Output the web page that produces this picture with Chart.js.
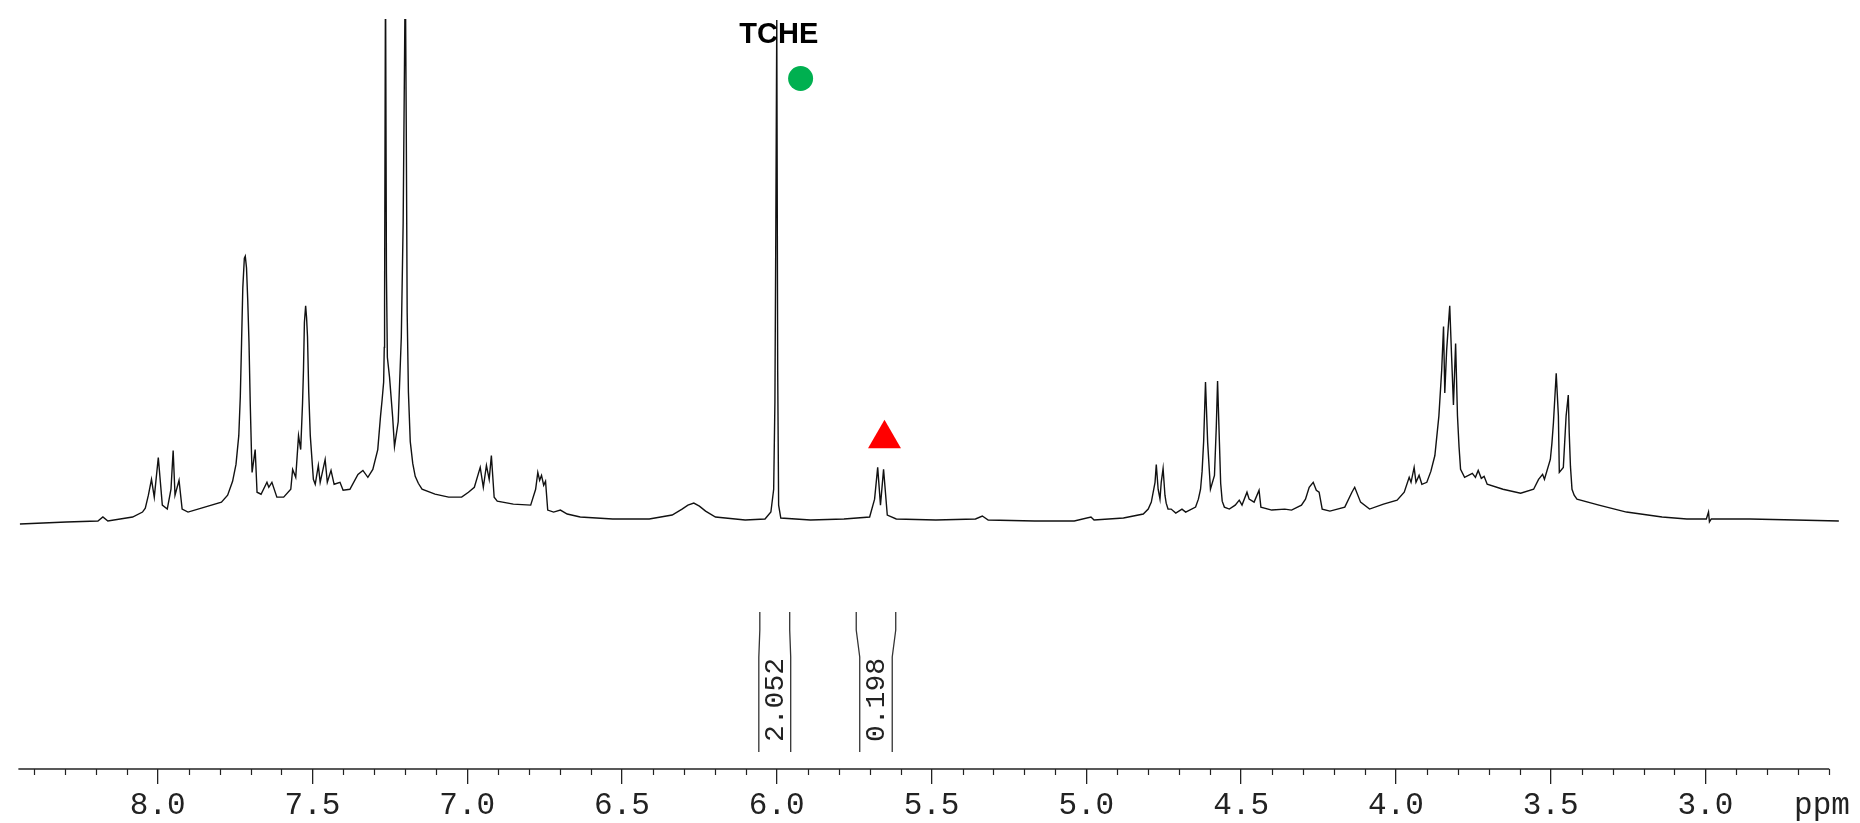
<!DOCTYPE html>
<html>
<head>
<meta charset="utf-8">
<script src="https://cdn.jsdelivr.net/npm/chart.js@4.4.1/dist/chart.umd.min.js"></script>
<style>
  html, body { margin: 0; padding: 0; background: #fff; }
  canvas { display: block; }
</style>
</head>
<body>
<canvas id="nmr" width="1860" height="823"></canvas>
<script>
// 1H NMR trace: chemical shift (ppm) and intensity (a.u., 0 = baseline)
const shifts = [
  8.445, 8.295, 8.193, 8.177, 8.161, 8.081, 8.049, 8.040, 8.030, 8.020,
  8.011, 7.998, 7.985, 7.969, 7.957, 7.950, 7.944, 7.931, 7.921, 7.902,
  7.848, 7.794, 7.774, 7.758, 7.747, 7.738, 7.733, 7.729, 7.725, 7.720,
  7.717, 7.713, 7.709, 7.705, 7.701, 7.697, 7.695, 7.685, 7.679, 7.666,
  7.647, 7.641, 7.631, 7.615, 7.593, 7.570, 7.564, 7.554, 7.545, 7.538,
  7.532, 7.529, 7.526, 7.522, 7.519, 7.516, 7.512, 7.507, 7.497, 7.491,
  7.481, 7.475, 7.459, 7.452, 7.440, 7.430, 7.411, 7.401, 7.379, 7.353,
  7.337, 7.321, 7.305, 7.289, 7.280, 7.275, 7.270, 7.268, 7.267, 7.264,
  7.261, 7.258, 7.251, 7.241, 7.235, 7.223, 7.213, 7.207, 7.200, 7.197,
  7.194, 7.190, 7.184, 7.176, 7.168, 7.158, 7.146, 7.104, 7.060, 7.018,
  6.996, 6.977, 6.958, 6.948, 6.938, 6.929, 6.922, 6.913, 6.903, 6.851,
  6.795, 6.779, 6.772, 6.766, 6.760, 6.753, 6.747, 6.740, 6.721, 6.699,
  6.677, 6.635, 6.530, 6.412, 6.338, 6.306, 6.287, 6.268, 6.250, 6.230,
  6.198, 6.102, 6.038, 6.019, 6.010, 6.006, 6.003, 6.000, 5.997, 5.994,
  5.987, 5.891, 5.783, 5.700, 5.684, 5.674, 5.665, 5.655, 5.643, 5.614,
  5.486, 5.358, 5.336, 5.317, 5.167, 5.039, 4.985, 4.975, 4.880, 4.816,
  4.800, 4.790, 4.778, 4.774, 4.768, 4.762, 4.758, 4.752, 4.746, 4.742,
  4.736, 4.726, 4.711, 4.691, 4.679, 4.647, 4.638, 4.631, 4.626, 4.621,
  4.615, 4.608, 4.599, 4.586, 4.580, 4.576, 4.570, 4.566, 4.561, 4.554,
  4.538, 4.519, 4.506, 4.497, 4.481, 4.474, 4.458, 4.442, 4.436, 4.401,
  4.359, 4.337, 4.305, 4.292, 4.280, 4.267, 4.257, 4.248, 4.238, 4.213,
  4.165, 4.142, 4.133, 4.114, 4.085, 4.040, 3.996, 3.973, 3.957, 3.951,
  3.941, 3.935, 3.925, 3.916, 3.900, 3.887, 3.874, 3.861, 3.852, 3.846,
  3.842, 3.836, 3.826, 3.820, 3.814, 3.807, 3.801, 3.796, 3.791, 3.778,
  3.753, 3.743, 3.734, 3.724, 3.715, 3.705, 3.654, 3.597, 3.555, 3.539,
  3.526, 3.520, 3.501, 3.496, 3.491, 3.482, 3.475, 3.472, 3.459, 3.450,
  3.443, 3.440, 3.436, 3.431, 3.424, 3.415, 3.344, 3.255, 3.140, 3.060,
  2.997, 2.990, 2.987, 2.981, 2.856, 2.709, 2.569
];
const intensity = [
  -3, -1, 0, 4, 0, 4, 9, 13, 26, 42,
  24, 64, 16, 12, 32, 71, 26, 41, 12, 9,
  14, 19, 26, 40, 57, 86, 126, 180, 235, 265,
  267, 255, 222, 180, 119, 69, 49, 72, 29, 27,
  39, 34, 39, 24, 24, 32, 52, 44, 86, 72,
  119, 152, 200, 217, 205, 186, 130, 86, 42, 37,
  56, 39, 62, 39, 51, 37, 39, 31, 32, 47,
  51, 44, 52, 72, 106, 122, 140, 175, 220, 560,
  250, 165, 145, 105, 75, 100, 185, 300, 560, 400,
  210, 130, 80, 58, 45, 38, 32, 27, 24, 24,
  29, 34, 54, 34, 56, 42, 66, 24, 20, 17,
  16, 32, 49, 41, 46, 36, 40, 11, 9, 11,
  7, 4, 2, 2, 6, 12, 16, 18, 15, 10,
  4, 1, 2, 9, 32, 120, 300, 505, 150, 16,
  3, 1, 2, 4, 22, 54, 16, 52, 6, 2,
  1, 2, 5, 1, 0, 0, 4, 1, 3, 7,
  12, 19, 39, 57, 32, 22, 39, 53, 26, 18,
  12, 12, 8, 12, 9, 14, 22, 32, 50, 80,
  140, 79, 32, 46, 96, 141, 79, 38, 20, 14,
  12, 16, 21, 16, 29, 22, 19, 31, 14, 11,
  12, 11, 16, 22, 34, 39, 31, 29, 12, 10,
  14, 29, 34, 19, 12, 17, 21, 29, 44, 39,
  54, 39, 46, 37, 39, 50, 66, 106, 152, 196,
  129, 172, 217, 166, 117, 179, 106, 75, 52, 44,
  48, 44, 51, 43, 45, 37, 32, 28, 32, 42,
  47, 42, 62, 78, 99, 149, 106, 49, 54, 106,
  127, 89, 55, 32, 26, 22, 16, 9, 4, 2,
  2, 9, -1, 2, 2, 1, 0
];

// integrated regions (ppm bounds) and their values
const integralFrom = [6.058, 5.732];
const integralTo = [5.955, 5.627];
const integralValues = [2.052, 0.198];

// annotations
const tcheShift = 6.0;
const markerShifts = [5.923, 5.652];
const markerHeights = [446, 83];

const spectrum = shifts.map((s, i) => ({ x: s, y: intensity[i] }));

// axis line, minor ticks, ppm unit, integrals, peak label
const extras = {
  id: 'extras',
  afterDraw(chart) {
    const ctx = chart.ctx;
    const xs = chart.scales.x;
    const area = chart.chartArea;
    const y0 = area.bottom;
    ctx.save();
    ctx.strokeStyle = '#222';
    ctx.lineWidth = 1.4;
    ctx.beginPath();
    ctx.moveTo(xs.getPixelForValue(8.45), y0);
    ctx.lineTo(xs.getPixelForValue(2.6), y0);
    ctx.stroke();

    ctx.lineWidth = 1.2;
    ctx.beginPath();
    for (let k = 26; k <= 84; k++) {
      if (k % 5 === 0) continue;
      const px = Math.round(xs.getPixelForValue(k / 10)) + 0.5;
      ctx.moveTo(px, y0);
      ctx.lineTo(px, y0 + 6);
    }
    ctx.stroke();

    ctx.fillStyle = '#222';
    ctx.font = '31px "Liberation Mono"';
    ctx.textAlign = 'center';
    ctx.textBaseline = 'middle';
    ctx.fillText('ppm', 1822, 806);

    // integrals
    const flare = [-1, 3.5];
    ctx.strokeStyle = '#333';
    ctx.lineWidth = 1.3;
    integralValues.forEach((val, i) => {
      const xl = xs.getPixelForValue(integralFrom[i]);
      const xr = xs.getPixelForValue(integralTo[i]);
      ctx.beginPath();
      ctx.moveTo(xl - flare[i], 612);
      ctx.lineTo(xl - flare[i], 630);
      ctx.lineTo(xl, 657);
      ctx.lineTo(xl, 752);
      ctx.moveTo(xr + flare[i], 612);
      ctx.lineTo(xr + flare[i], 630);
      ctx.lineTo(xr, 657);
      ctx.lineTo(xr, 752);
      ctx.stroke();
      ctx.save();
      ctx.translate((xl + xr) / 2, 700);
      ctx.rotate(-Math.PI / 2);
      ctx.fillStyle = '#222';
      ctx.font = '28px "Liberation Mono"';
      ctx.textAlign = 'center';
      ctx.textBaseline = 'middle';
      ctx.fillText(val.toFixed(3), 0, 1);
      ctx.restore();
    });

    // solvent reference label
    ctx.fillStyle = '#000';
    ctx.font = 'bold 29px "Liberation Sans"';
    ctx.textAlign = 'center';
    ctx.textBaseline = 'alphabetic';
    ctx.fillText('TCHE', xs.getPixelForValue(tcheShift) + 2, 43);
    ctx.restore();
  }
};

new Chart(document.getElementById('nmr'), {
  type: 'line',
  data: {
    datasets: [
      {
        data: spectrum,
        borderColor: '#111',
        borderWidth: 1.4,
        pointRadius: 0,
        tension: 0,
        fill: false
      },
      {
        type: 'scatter',
        data: [{ x: markerShifts[0], y: markerHeights[0] }],
        pointStyle: 'circle',
        pointRadius: 12.5,
        backgroundColor: '#00b050',
        borderWidth: 0
      },
      {
        type: 'scatter',
        data: [{ x: markerShifts[1], y: markerHeights[1] }],
        pointStyle: 'triangle',
        pointRadius: 19,
        backgroundColor: '#ff0000',
        borderWidth: 0
      }
    ]
  },
  options: {
    responsive: false,
    animation: false,
    devicePixelRatio: 1,
    layout: { padding: { left: 12, right: 4, top: 13, bottom: 0 } },
    plugins: { legend: { display: false }, tooltip: { enabled: false } },
    scales: {
      x: {
        type: 'linear',
        reverse: true,
        min: 2.562,
        max: 8.448,
        afterFit: (s) => { s.height = 54; },
        border: { display: false },
        grid: { drawOnChartArea: false, drawTicks: true, tickLength: 15, color: '#222', lineWidth: 1.3 },
        ticks: {
          stepSize: 0.5,
          includeBounds: false,
          autoSkip: false,
          maxRotation: 0,
          padding: 3,
          color: '#222',
          font: { family: 'Liberation Mono', size: 31 },
          callback: (v) => v.toFixed(1)
        }
      },
      y: { display: false, min: -250, max: 506 }
    }
  },
  plugins: [extras]
});
</script>
</body>
</html>
